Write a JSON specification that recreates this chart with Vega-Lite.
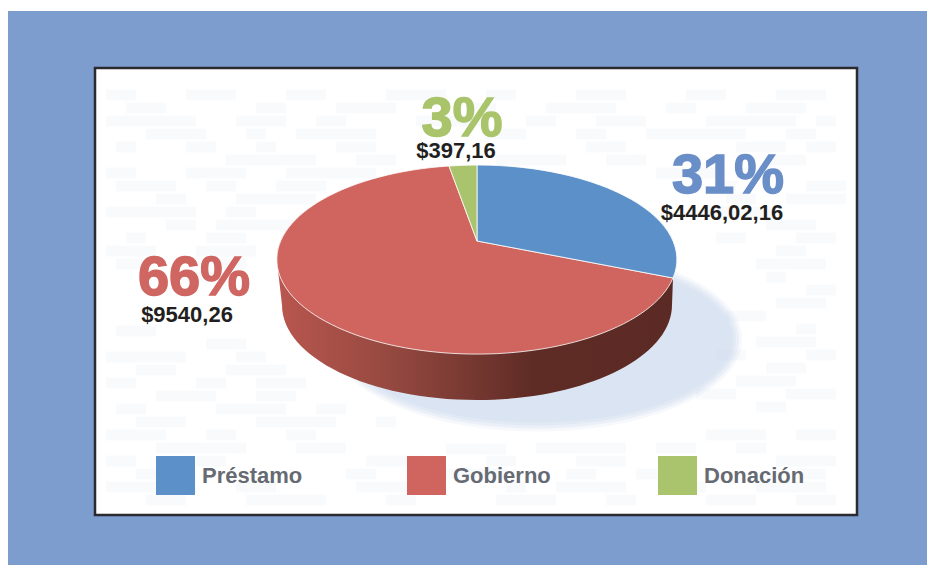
{"$schema":"https://vega.github.io/schema/vega-lite/v6.json","width":762,"height":447,"padding":{"left":95,"top":68,"right":70,"bottom":50},"autosize":{"type":"none"},"background":"#ffffff","config":{"view":{"stroke":null},"text":{"font":"Liberation Sans"}},
"data":{"values":[{"categoria":"Préstamo","porcentaje":"31%","monto":"$4446,02,16"},{"categoria":"Gobierno","porcentaje":"66%","monto":"$9540,26"},{"categoria":"Donación","porcentaje":"3%","monto":"$397,16"}]},
"layer":[
{"transform":[{"filter":"datum.categoria==='Gobierno'"}],"mark":{"type":"point","filled":true,"opacity":1,"size":40000,"fill":"#7c9dce","shape":"M-4.68,-2.805H4.51V2.735H-4.68Z"},"encoding":{}},
{"transform":[{"filter":"datum.categoria==='Gobierno'"}],"mark":{"type":"point","filled":true,"opacity":1,"size":40000,"fill":"#ffffff","stroke":"#2a2a30","strokeWidth":2.5,"shape":"M-3.81,-2.235H3.81V2.235H-3.81Z"},"encoding":{}},
{"transform":[{"filter":"datum.categoria==='Gobierno'"}],"mark":{"type":"point","filled":true,"opacity":1,"fillOpacity":0.25,"size":40000,"strokeWidth":0,"fill":"#dbe4f2","shape":"M-1.44,0.48A2.05,0.92 0 1 1 2.66,0.48A2.05,0.92 0 1 1 -1.44,0.48Z"},"encoding":{}},
{"transform":[{"filter":"datum.categoria==='Gobierno'"}],"mark":{"type":"point","filled":true,"opacity":1,"fillOpacity":0.4,"size":40000,"strokeWidth":0,"fill":"#dbe4f2","shape":"M-1.41,0.48A2.02,0.89 0 1 1 2.63,0.48A2.02,0.89 0 1 1 -1.41,0.48Z"},"encoding":{}},
{"transform":[{"filter":"datum.categoria==='Gobierno'"}],"mark":{"type":"point","filled":true,"opacity":1,"fillOpacity":0.6,"size":40000,"strokeWidth":0,"fill":"#dbe4f2","shape":"M-1.38,0.48A1.99,0.86 0 1 1 2.6,0.48A1.99,0.86 0 1 1 -1.38,0.48Z"},"encoding":{}},
{"transform":[{"filter":"datum.categoria==='Gobierno'"}],"mark":{"type":"point","filled":true,"opacity":1,"size":40000,"strokeWidth":0,"fill":"#dbe4f2","shape":"M-1.35,0.48A1.96,0.83 0 1 1 2.57,0.48A1.96,0.83 0 1 1 -1.35,0.48Z"},"encoding":{}},
{"transform":[{"filter":"datum.categoria==='Gobierno'"}],"mark":{"type":"point","filled":true,"opacity":1,"fillOpacity":0.12,"size":40000,"strokeWidth":0,"fill":"#c4d3e8","shape":"M-3.7,-2.02h.3v.11h-.3zM-2.9,-2.02h.5v.11h-.5zM-1.9,-2.02h.4v.11h-.4zM-.9,-2.02h.6v.11h-.6zM.1,-2.02h.3v.11h-.3zM1,-2.02h.5v.11h-.5zM2.1,-2.02h.4v.11h-.4zM3,-2.02h.5v.11h-.5zM-3.5,-1.89h.4v.11h-.4zM-2.2,-1.89h.3v.11h-.3zM-1.4,-1.89h.6v.11h-.6zM-.1,-1.89h.3v.11h-.3zM.7,-1.89h.7v.11h-.7zM1.9,-1.89h.3v.11h-.3zM2.7,-1.89h.6v.11h-.6zM-3.7,-1.76h.9v.11h-.9zM-2.4,-1.76h.5v.11h-.5zM-1.6,-1.76h.3v.11h-.3zM-.6,-1.76h.7v.11h-.7zM.5,-1.76h.3v.11h-.3zM1.2,-1.76h.5v.11h-.5zM2.3,-1.76h.9v.11h-.9zM3.4,-1.76h.2v.11h-.2zM-3.3,-1.63h.6v.11h-.6zM-2.3,-1.63h.2v.11h-.2zM-1.8,-1.63h.8v.11h-.8zM.1,-1.63h.4v.11h-.4zM1,-1.63h.3v.11h-.3zM1.7,-1.63h1v.11h-1zM3.1,-1.63h.3v.11h-.3zM-3.6,-1.5h.2v.11h-.2zM-2.9,-1.5h.3v.11h-.3zM-2.2,-1.5h.2v.11h-.2zM-1.4,-1.5h.4v.11h-.4zM-.5,-1.5h.3v.11h-.3zM1.1,-1.5h.4v.11h-.4zM2.6,-1.5h.5v.11h-.5zM3.3,-1.5h.3v.11h-.3zM-2.5,-1.37h.9v.11h-.9zM-1.2,-1.37h.4v.11h-.4zM.2,-1.37h.7v.11h-.7zM1.3,-1.37h.4v.11h-.4zM2.9,-1.37h.4v.11h-.4zM-3.7,-1.24h.3v.11h-.3zM-2.9,-1.24h.6v.11h-.6zM-1.9,-1.24h.9v.11h-.9zM1.8,-1.24h.6v.11h-.6zM2.6,-1.24h.2v.11h-.2zM-3.6,-1.11h.6v.11h-.6zM-2.7,-1.11h.3v.11h-.3zM-2,-1.11h.5v.11h-.5zM2.4,-1.11h.2v.11h-.2zM3.3,-1.11h.4v.11h-.4zM-3.2,-.98h.3v.11h-.3zM-2.4,-.98h.8v.11h-.8zM2.5,-.98h.3v.11h-.3zM3.1,-.98h.6v.11h-.6zM-3.7,-.85h.9v.11h-.9zM-2.5,-.85h.3v.11h-.3zM2.3,-.85h.7v.11h-.7zM-3.1,-.72h.3v.11h-.3zM-2.6,-.72h.8v.11h-.8zM2.9,-.72h.5v.11h-.5zM-3.5,-.59h.2v.11h-.2zM-2.7,-.59h.4v.11h-.4zM2.4,-.59h.3v.11h-.3zM3.2,-.59h.4v.11h-.4zM-3.7,-.46h.5v.11h-.5zM-2.8,-.46h.6v.11h-.6zM3,-.46h.3v.11h-.3zM-3.6,-.33h.3v.11h-.3zM-2.6,-.33h.3v.11h-.3zM2.8,-.33h.7v.11h-.7zM-2.9,-.2h.3v.11h-.3zM-3.6,.34h.4v.11h-.4zM2.9,-.2h.2v.11h-.2zM3.3,-.07h.3v.11h-.3zM3,.06h.5v.11h-.5zM2.5,.19h.4v.11h-.4zM-2.7,.47h.4v.11h-.4zM3.2,.32h.2v.11h-.2zM-3.7,.6h.8v.11h-.8zM-2.4,.6h.3v.11h-.3zM2.8,.45h.6v.11h-.6zM-3.4,.73h.4v.11h-.4zM-2.5,.73h.6v.11h-.6zM2.4,.58h.3v.11h-.3zM3.3,.58h.3v.11h-.3zM-3.7,.86h.3v.11h-.3zM-2.8,.86h.3v.11h-.3zM-2.2,.86h.5v.11h-.5zM2.9,.71h.4v.11h-.4zM-3.2,.99h.6v.11h-.6zM-2.2,.99h.4v.11h-.4zM2.6,.84h.6v.11h-.6zM-3.6,1.12h.3v.11h-.3zM-2.6,1.12h.7v.11h-.7zM-1.6,1.12h.3v.11h-.3zM2.2,.97h.4v.11h-.4zM3.1,.97h.5v.11h-.5zM-3.4,1.25h.5v.11h-.5zM-2.2,1.25h.8v.11h-.8zM-1,1.25h.2v.11h-.2zM2.8,1.1h.3v.11h-.3zM-3.7,1.38h.6v.11h-.6zM-2.7,1.38h.3v.11h-.3zM-1.9,1.38h.3v.11h-.3zM-.3,1.52h.6v.11h-.6zM2.3,1.38h.6v.11h-.6zM3.2,1.38h.4v.11h-.4zM-3.2,1.51h.9v.11h-.9zM-1.8,1.51h.5v.11h-.5zM.6,1.51h.9v.11h-.9zM1.8,1.51h.4v.11h-.4zM2.6,1.51h.3v.11h-.3zM-3.7,1.64h.3v.11h-.3zM-2.9,1.64h.4v.11h-.4zM-1.1,1.64h.6v.11h-.6zM.1,1.64h.3v.11h-.3zM1,1.64h.5v.11h-.5zM3,1.64h.6v.11h-.6zM-3.4,1.77h.5v.11h-.5zM-1.3,1.77h.3v.11h-.3zM-.5,1.77h.8v.11h-.8zM.9,1.77h.3v.11h-.3zM1.6,1.77h.6v.11h-.6zM3.2,1.77h.3v.11h-.3zM-3.7,1.9h.9v.11h-.9zM-2.4,1.9h.4v.11h-.4zM-1.2,1.9h.7v.11h-.7zM.3,1.9h.2v.11h-.2zM.8,1.9h.7v.11h-.7zM2,1.9h.3v.11h-.3zM2.8,1.9h.7v.11h-.7zM-3.3,2.03h.4v.11h-.4zM-2.3,2.03h.8v.11h-.8zM-.9,2.03h.3v.11h-.3zM.2,2.03h.6v.11h-.6zM1.3,2.03h.3v.11h-.3zM2.3,2.03h.5v.11h-.5zM3.2,2.03h.4v.11h-.4z"},"encoding":{}},
{"transform":[{"filter":"datum.categoria==='Gobierno'"}],"mark":{"type":"point","filled":true,"opacity":1,"size":40000,"strokeWidth":0,"fill":{"gradient":"linear","x1":0,"y1":0,"x2":1,"y2":0,"stops":[{"offset":0,"color":"#b9574f"},{"offset":0.3,"color":"#93483f"},{"offset":0.65,"color":"#5e2b25"},{"offset":1,"color":"#5c2a24"}]},"shape":"M-1.99,-0.3L-1.94,0.135A1.95,0.95 0 0 0 1.96,0.135L1.97,-0.135Z"},"encoding":{}},
{"transform":[{"filter":"datum.categoria==='Gobierno'"}],"mark":{"type":"point","filled":true,"opacity":1,"size":40000,"stroke":"#ffffff","strokeWidth":1,"strokeOpacity":0.8,"shape":"M0.01,-0.505L1.97,-0.135A2,0.945 0 1 1 -0.27,-1.255Z"},"encoding":{"color":{"field":"categoria","type":"nominal","scale":{"domain":["Préstamo","Gobierno","Donación"],"range":["#5b90c8","#cf655e","#a9c46c"]},"legend":{"title":null,"orient":"none","legendX":61,"legendY":388,"direction":"horizontal","columns":3,"gridAlign":"all","columnPadding":104,"symbolType":"square","symbolSize":1521,"symbolStrokeWidth":0,"labelFont":"Liberation Sans","labelFontWeight":"bold","labelFontSize":22,"labelColor":"#666a72","labelOffset":7,"labelLimit":200,"padding":0}}}},
{"transform":[{"filter":"datum.categoria==='Préstamo'"}],"mark":{"type":"point","filled":true,"opacity":1,"size":40000,"stroke":"#ffffff","strokeWidth":1,"strokeOpacity":0.8,"shape":"M0.01,-0.505L0.01,-1.265A2,0.945 0 0 1 1.97,-0.135Z"},"encoding":{"color":{"field":"categoria","type":"nominal"}}},
{"transform":[{"filter":"datum.categoria==='Donación'"}],"mark":{"type":"point","filled":true,"opacity":1,"size":40000,"stroke":"#ffffff","strokeWidth":1,"strokeOpacity":0.8,"shape":"M0.01,-0.505L-0.27,-1.255A2,0.945 0 0 1 0.01,-1.265Z"},"encoding":{"color":{"field":"categoria","type":"nominal"}}},
{"transform":[{"filter":"datum.categoria==='Gobierno'"}],"mark":{"type":"text","font":"Liberation Sans","fontWeight":"bold","fontSize":56,"align":"center","baseline":"alphabetic","dx":-282,"dy":3.5,"fill":"#cf6661","stroke":"#cf6661","strokeWidth":1.5},"encoding":{"text":{"field":"porcentaje"}}},
{"transform":[{"filter":"datum.categoria==='Préstamo'"}],"mark":{"type":"text","font":"Liberation Sans","fontWeight":"bold","fontSize":56,"align":"center","baseline":"alphabetic","dx":252,"dy":-98.5,"fill":"#6a8fc8","stroke":"#6a8fc8","strokeWidth":1.5},"encoding":{"text":{"field":"porcentaje"}}},
{"transform":[{"filter":"datum.categoria==='Donación'"}],"mark":{"type":"text","font":"Liberation Sans","fontWeight":"bold","fontSize":56,"align":"center","baseline":"alphabetic","dx":-14,"dy":-155.5,"fill":"#a9c46a","stroke":"#a9c46a","strokeWidth":1.5},"encoding":{"text":{"field":"porcentaje"}}},
{"transform":[{"filter":"datum.categoria==='Gobierno'"}],"mark":{"type":"text","font":"Liberation Sans","fontWeight":"bold","fontSize":22,"align":"center","baseline":"alphabetic","dx":-289,"dy":30.5,"fill":"#231f20"},"encoding":{"text":{"field":"monto"}}},
{"transform":[{"filter":"datum.categoria==='Préstamo'"}],"mark":{"type":"text","font":"Liberation Sans","fontWeight":"bold","fontSize":22,"align":"center","baseline":"alphabetic","dx":246,"dy":-71.5,"fill":"#231f20"},"encoding":{"text":{"field":"monto"}}},
{"transform":[{"filter":"datum.categoria==='Donación'"}],"mark":{"type":"text","font":"Liberation Sans","fontWeight":"bold","fontSize":22,"align":"center","baseline":"alphabetic","dx":-20,"dy":-133.5,"fill":"#231f20"},"encoding":{"text":{"field":"monto"}}}
]}
